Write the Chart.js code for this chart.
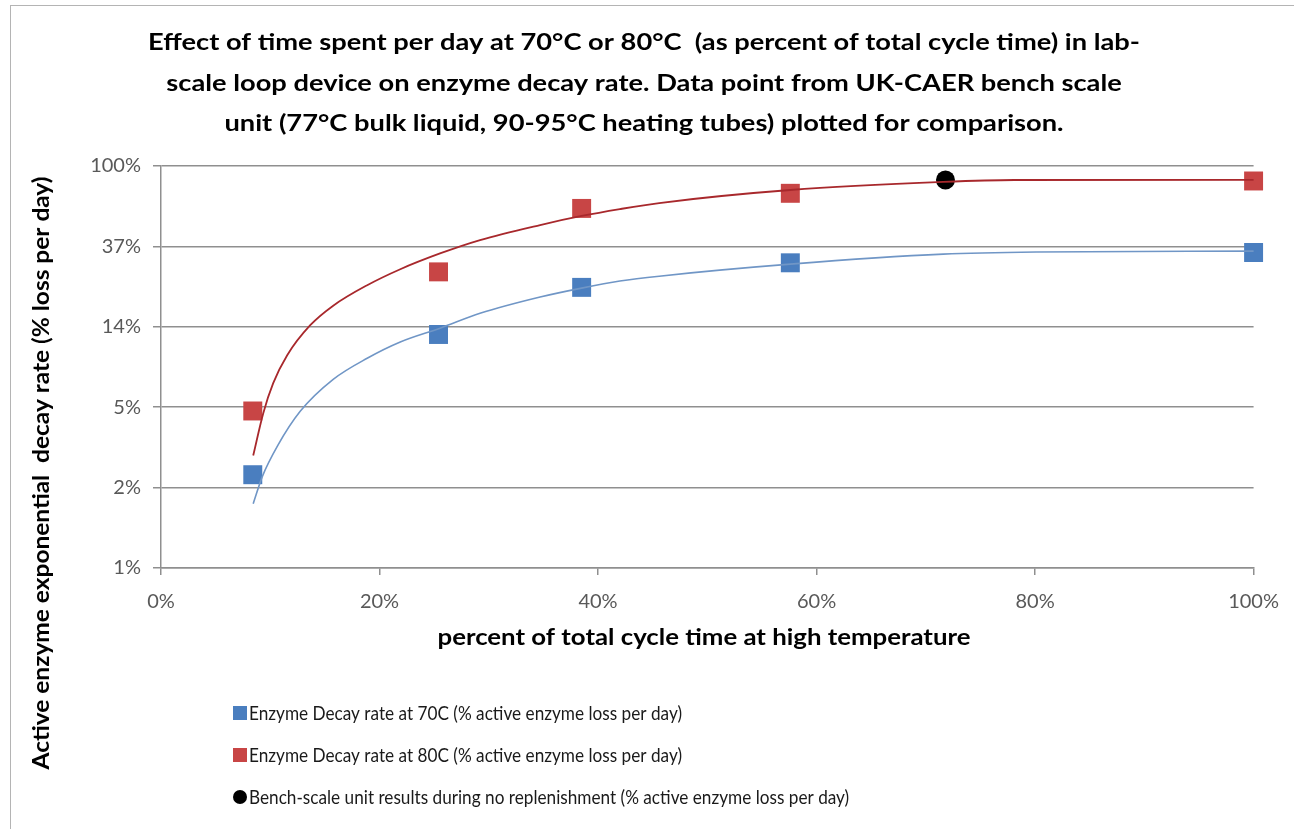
<!DOCTYPE html>
<html>
<head>
<meta charset="utf-8">
<script src="https://cdn.jsdelivr.net/npm/chart.js@4.4.1/dist/chart.umd.min.js"></script>
<style>
  html, body { margin: 0; padding: 0; background: #fff; }
</style>
</head>
<body>
<canvas id="chart" width="1294" height="829"></canvas>
<script>
// chart text
const titleLines = [
  "Effect of time spent per day at 70°C or 80°C  (as percent of total cycle time) in lab-",
  "scale loop device on enzyme decay rate. Data point from UK-CAER bench scale",
  "unit (77°C bulk liquid, 90-95°C heating tubes) plotted for comparison."
];
const xAxisTitle = "percent of total cycle time at high temperature";
const yAxisTitle = "Active enzyme exponential  decay rate (% loss per day)";
const legendLabels = [
  "Enzyme Decay rate at 70C (% active enzyme loss per day)",
  "Enzyme Decay rate at 80C (% active enzyme loss per day)",
  "Bench-scale unit results during no replenishment (% active enzyme loss per day)"
];

// ticks
const xTicks = [0, 20, 40, 60, 80, 100];
const yTickValues = [100, 36.79, 13.53, 4.979, 1.832, 0.6738];
const yTickLabels = ["100%", "37%", "14%", "5%", "2%", "1%"];

// measured points (percent of cycle time, percent loss per day)
const pctTime70 = [8.4, 25.4, 38.5, 57.6, 100];
const decay70 = [2.15, 12.3, 22.1, 30.0, 34.1];
const pctTime80 = [8.4, 25.4, 38.5, 57.6, 100];
const decay80 = [4.75, 26.8, 59.0, 71.2, 83.0];
const benchPct = [71.8];
const benchDecay = [84.0];

// trendlines
const trend70X = [8.44, 9.27, 10.64, 12.74, 15.76, 18.87, 21.9, 25.55, 29.2, 34.7, 38.5, 42.0, 45.6, 57.6, 71.6, 80.1, 100];
const trend70Y = [1.50, 2.10, 3.06, 4.73, 7.04, 9.15, 11.2, 13.3, 16.0, 19.6, 21.9, 23.9, 25.4, 29.5, 33.4, 34.3, 34.7];
const trend80X = [8.44, 9.36, 10.27, 11.55, 13.66, 15.76, 18.87, 21.9, 25.6, 29.2, 34.7, 38.5, 42.0, 45.6, 57.6, 71.6, 78.1, 100];
const trend80Y = [2.73, 4.62, 6.71, 9.50, 13.8, 17.6, 22.7, 27.7, 33.8, 39.8, 48.0, 53.7, 58.5, 63.1, 74.2, 82.0, 84.0, 84.2];

const toXY = (xs, ys) => xs.map((x, i) => ({ x: x, y: ys[i] }));

const BLUE = "#4a7ebf";
const RED = "#c84545";
const GRID = "#8f8f8f";
const FACE = "Lato, 'Open Sans', sans-serif";

// draw text squeezed or stretched horizontally by factor k
function squeezeText(ctx, text, x, y, k) {
  ctx.save();
  ctx.translate(x, y);
  ctx.scale(k, 1);
  ctx.fillText(text, 0, 0);
  ctx.restore();
}

const textPlugin = {
  id: "textPlugin",
  afterDraw(chart) {
    const ctx = chart.ctx;
    ctx.save();

    // outer frame
    ctx.strokeStyle = "#b4b4b4";
    ctx.lineWidth = 1;
    ctx.strokeRect(10.5, 5.5, 1400, 1000);

    ctx.fillStyle = "#000";
    ctx.textAlign = "center";
    ctx.textBaseline = "middle";

    // title
    ctx.font = "bold 23px " + FACE;
    const sx = 992 / ctx.measureText(titleLines[0]).width;
    titleLines.forEach((line, i) => squeezeText(ctx, line, 644, 43 + i * 40.5, sx));

    // axis titles
    squeezeText(ctx, xAxisTitle, 704, 638, 533 / ctx.measureText(xAxisTitle).width);
    ctx.save();
    ctx.translate(42, 473);
    ctx.rotate(-Math.PI / 2);
    squeezeText(ctx, yAxisTitle, 0, 0, 593 / ctx.measureText(yAxisTitle).width);
    ctx.restore();

    // legend
    ctx.font = "20px " + FACE;
    ctx.textAlign = "left";
    const rows = [713, 755, 797];
    ctx.fillStyle = BLUE;
    ctx.fillRect(233, rows[0] - 7, 14, 14);
    ctx.fillStyle = RED;
    ctx.fillRect(233, rows[1] - 7, 14, 14);
    ctx.fillStyle = "#000";
    ctx.beginPath();
    ctx.arc(240, rows[2], 7, 0, Math.PI * 2);
    ctx.fill();
    ctx.fillStyle = "#1a1a1a";
    const lsx = 433 / ctx.measureText(legendLabels[0]).width;
    legendLabels.forEach((l, i) => squeezeText(ctx, l, 249, rows[i] + 1, lsx));

    ctx.restore();
  }
};

const tickFont = { family: FACE, size: 20 };

new Chart(document.getElementById("chart"), {
  type: "scatter",
  data: {
    datasets: [
      {
        label: "trend70",
        data: toXY(trend70X, trend70Y),
        showLine: true,
        pointRadius: 0,
        borderColor: "#7096c6",
        borderWidth: 1.6,
        cubicInterpolationMode: "monotone",
        clip: false,
        order: 0
      },
      {
        label: "trend80",
        data: toXY(trend80X, trend80Y),
        showLine: true,
        pointRadius: 0,
        borderColor: "#a8282c",
        borderWidth: 1.8,
        cubicInterpolationMode: "monotone",
        clip: false,
        order: 0
      },
      {
        label: legendLabels[0],
        data: toXY(pctTime70, decay70),
        pointStyle: "rect",
        pointRadius: 13.4,
        backgroundColor: BLUE,
        borderWidth: 0,
        clip: false,
        order: 1
      },
      {
        label: legendLabels[1],
        data: toXY(pctTime80, decay80),
        pointStyle: "rect",
        pointRadius: 13.4,
        backgroundColor: RED,
        borderWidth: 0,
        clip: false,
        order: 1
      },
      {
        label: legendLabels[2],
        data: toXY(benchPct, benchDecay),
        pointStyle: "circle",
        pointRadius: 9.5,
        backgroundColor: "#000",
        borderWidth: 0,
        clip: false,
        order: 1
      }
    ]
  },
  options: {
    responsive: false,
    animation: false,
    layout: { padding: { left: 0, right: 40, top: 166, bottom: 0 } },
    plugins: { legend: { display: false }, tooltip: { enabled: false } },
    scales: {
      x: {
        type: "linear",
        min: 0,
        max: 100,
        afterBuildTicks: s => { s.ticks = xTicks.map(v => ({ value: v })); },
        afterFit: s => { s.height = 261; },
        ticks: { callback: v => v + "%", font: tickFont, color: "#595959", padding: 15 },
        grid: { drawOnChartArea: false, drawTicks: true, tickLength: 7, color: GRID, lineWidth: 1.5 },
        border: { color: GRID, width: 1.5 }
      },
      y: {
        type: "logarithmic",
        min: yTickValues[yTickValues.length - 1],
        max: 100,
        afterBuildTicks: s => { s.ticks = yTickValues.map(v => ({ value: v })); },
        afterFit: s => { s.width = 161; },
        ticks: { callback: (v, i) => yTickLabels[i], font: tickFont, color: "#595959", padding: 12 },
        grid: { color: GRID, lineWidth: 1.5, tickLength: 8 },
        border: { color: GRID, width: 1.5 }
      }
    }
  },
  plugins: [textPlugin]
});
</script>
</body>
</html>
